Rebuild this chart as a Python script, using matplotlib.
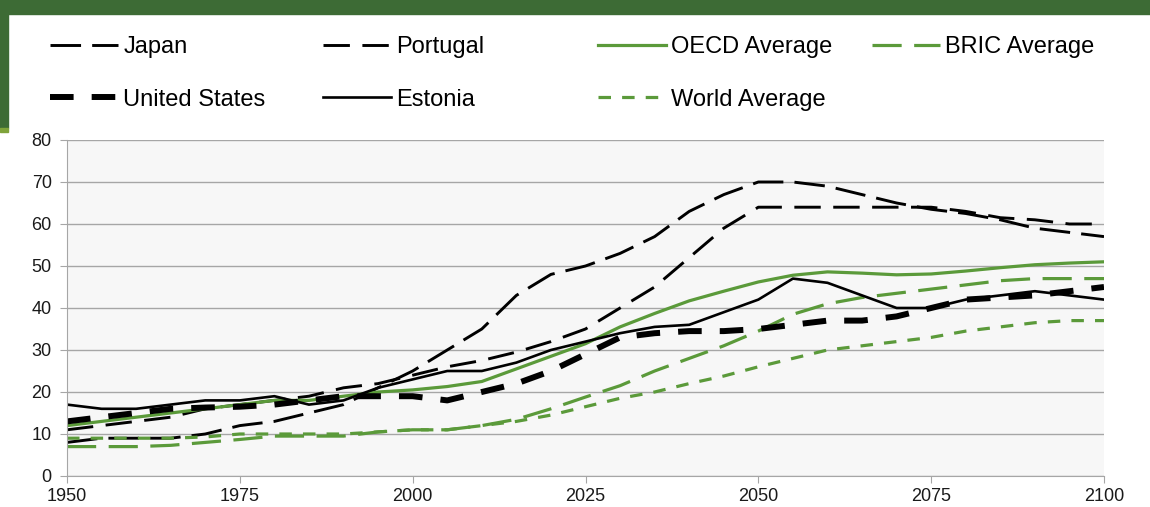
import numpy as np
import matplotlib
matplotlib.use("Agg")
import matplotlib.pyplot as plt
from matplotlib.patches import Rectangle

plt.rcParams['font.family'] = ['Liberation Sans', 'DejaVu Sans']
plt.rcParams['lines.scale_dashes'] = False

# data (5-year steps)
years = list(range(1950, 2101, 5))
japan = [8, 9, 9, 9, 10, 12, 13, 15, 17, 21, 25, 30, 35, 43, 48, 50, 53, 57, 63, 67,
         70, 70, 69, 67, 65, 63.5, 62.5, 61, 59, 58, 57]
portugal = [11, 12, 13, 14, 16, 17, 18, 19, 21, 22, 24, 26, 27.5, 29.5, 32, 35, 40, 45, 52, 59,
            64, 64, 64, 64, 64, 64, 63, 61.5, 61, 60, 60]
usa = [13, 14, 15, 16, 16.3, 16.5, 17, 18, 19, 19, 19, 18, 20, 22, 25, 29, 33, 34, 34.5, 34.5,
       35, 36, 37, 37, 38, 40, 42, 42.5, 43, 44, 45]
estonia = [17, 16, 16, 17, 18, 18, 19, 17, 18, 21, 23, 25, 25, 27, 30, 32, 34, 35.5, 36, 39,
           42, 47, 46, 43, 40, 40, 42, 43, 44, 43, 42]
oecd = [12, 13, 14, 15, 16, 17, 18, 18, 19, 20, 20.5, 21.3, 22.5, 25.5, 28.5, 31.5, 35.5, 38.7, 41.7, 44,
        46.2, 47.8, 48.6, 48.3, 47.9, 48.1, 48.8, 49.6, 50.3, 50.7, 51]
bric = [7, 7, 7, 7.3, 8, 8.7, 9.5, 9.5, 9.5, 10.5, 11, 11, 12, 13.5, 16, 18.8, 21.5, 25, 28, 31,
        34.5, 38.5, 41, 42.5, 43.5, 44.5, 45.5, 46.5, 47, 47, 47]
world = [9, 9, 9, 9, 9.3, 10, 10, 10, 10, 10.5, 11, 11, 12, 13, 14.5, 16.5, 18.5, 20, 22, 23.8,
         26, 28, 30, 31, 32, 33, 34.5, 35.5, 36.5, 37, 37]

green = '#5b9a3a'
banner = '#3d6b35'

fig = plt.figure(figsize=(11.5, 5.07), dpi=100)
fig.patches.append(Rectangle((0, 1 - 14 / 507), 1, 14 / 507, transform=fig.transFigure,
                             color=banner, zorder=0))
fig.patches.append(Rectangle((0, 1 - 128 / 507), 8 / 1150, 128 / 507, transform=fig.transFigure,
                             color=banner, zorder=0))
fig.patches.append(Rectangle((0, 1 - 132 / 507), 8 / 1150, 4 / 507, transform=fig.transFigure,
                             color='#7fa33a', zorder=0))

ax = fig.add_axes([67 / 1150, 1 - 476 / 507, (1104 - 67) / 1150, (476 - 140) / 507])
ax.set_facecolor('#f7f7f7')

l_jp, = ax.plot(years, japan, color='black', lw=2.1, dashes=(22, 8), label='Japan')
l_pt, = ax.plot(years, portugal, color='black', lw=2.1, dashes=(19, 9), label='Portugal')
l_oe, = ax.plot(years, oecd, color=green, lw=2.3, label='OECD Average')
l_br, = ax.plot(years, bric, color=green, lw=2.3, dashes=(21, 9), label='BRIC Average')
l_us, = ax.plot(years, usa, color='black', lw=4.3, dashes=(17, 13), label='United States')
l_ee, = ax.plot(years, estonia, color='black', lw=1.9, label='Estonia')
l_wo, = ax.plot(years, world, color=green, lw=2.3, dashes=(9, 8), label='World Average')

ax.set_xlim(1950, 2100)
ax.set_ylim(0, 80)
ax.set_xticks(range(1950, 2101, 25))
ax.set_yticks(range(0, 81, 10))
ax.yaxis.grid(True, color='#a6a6a6', lw=1)
ax.set_axisbelow(True)
for s in ['top', 'right']:
    ax.spines[s].set_visible(False)
for s in ['left', 'bottom']:
    ax.spines[s].set_color('#a6a6a6')
ax.tick_params(axis='both', direction='out', length=5, color='#a6a6a6',
               labelsize=13, labelcolor='#1a1a1a')
ax.tick_params(axis='y', pad=6)

cols = [([l_jp, l_us], 50), ([l_pt, l_ee], 323), ([l_oe, l_wo], 598), ([l_br], 872)]
for hs, x in cols:
    fig.legend(handles=hs, loc='upper left', bbox_to_anchor=(x / 1150, 1 - 36 / 507),
               frameon=False, fontsize=17, handlelength=2.9, handletextpad=0.2,
               labelspacing=1.3, borderpad=0, borderaxespad=0)

fig.savefig('out.png', dpi=100)
